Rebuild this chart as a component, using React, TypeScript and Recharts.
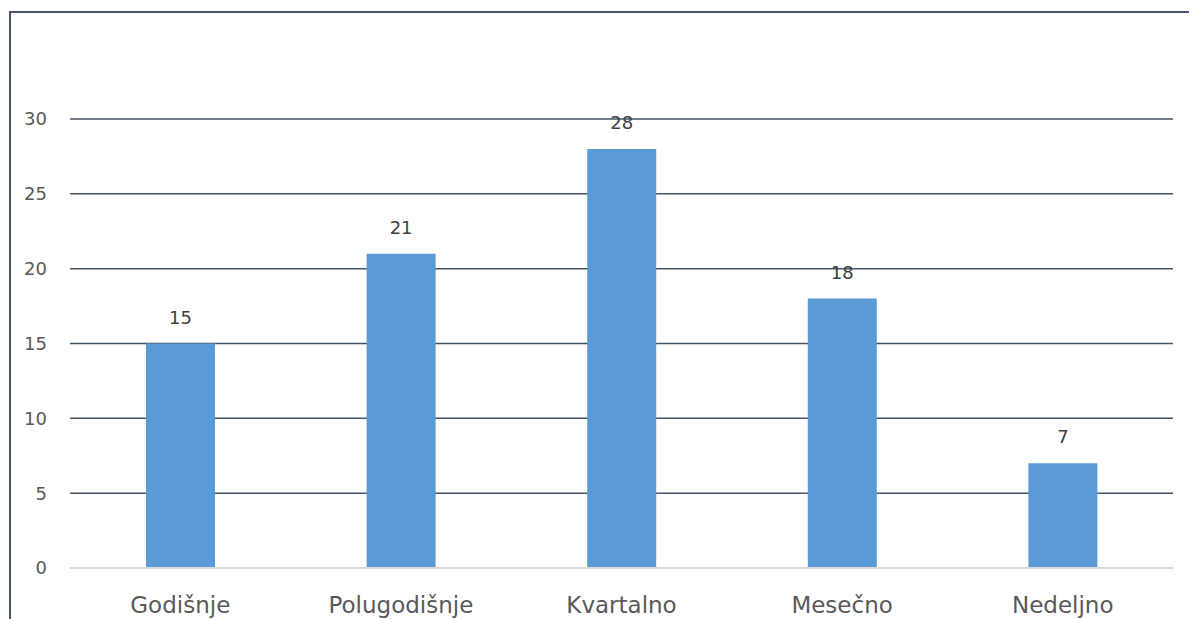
import React from 'react';
import { BarChart, Bar, XAxis, YAxis, CartesianGrid, LabelList } from 'recharts';

const categories = ['Godišnje', 'Polugodišnje', 'Kvartalno', 'Mesečno', 'Nedeljno'];
const values = [15, 21, 28, 18, 7];
const yTicks = [0, 5, 10, 15, 20, 25, 30];

const data = categories.map((name, i) => ({ name, value: values[i] }));

const FONT = '"DejaVu Sans", Verdana, sans-serif';

export default function App() {
  return (
    <div style={{ position: 'relative', width: 1189, height: 611, overflow: 'hidden', fontFamily: FONT }}>
      <div
        style={{
          position: 'absolute',
          left: 1,
          top: 3,
          width: 1300,
          height: 800,
          borderLeft: '2px solid #4a566b',
          borderTop: '2px solid #4a566b',
          boxSizing: 'border-box',
        }}
      />
      <div style={{ position: 'absolute', left: 0, top: 0 }}>
        <BarChart
          width={1189}
          height={611}
          data={data}
          margin={{ top: 111, right: 24, bottom: 11, left: 0 }}
          barSize={69}
        >
          <CartesianGrid vertical={false} stroke="#44546a" strokeWidth={1.5} />
          <YAxis
            domain={[0, 30]}
            ticks={yTicks}
            width={62}
            axisLine={false}
            tickLine={false}
            tickSize={0}
            tickMargin={23}
            tick={{ fill: '#595959', fontSize: 18, fontFamily: FONT }}
          />
          <XAxis
            dataKey="name"
            height={40}
            axisLine={{ stroke: '#d9d9d9', strokeWidth: 2 }}
            tickLine={false}
            tickSize={0}
            tickMargin={29}
            tick={{ fill: '#595959', fontSize: 23, fontFamily: FONT }}
          />
          <Bar dataKey="value" fill="#5b9bd5" isAnimationActive={false}>
            <LabelList dataKey="value" position="top" offset={20} fill="#404040" fontSize={18} fontFamily={FONT} />
          </Bar>
        </BarChart>
      </div>
    </div>
  );
}
